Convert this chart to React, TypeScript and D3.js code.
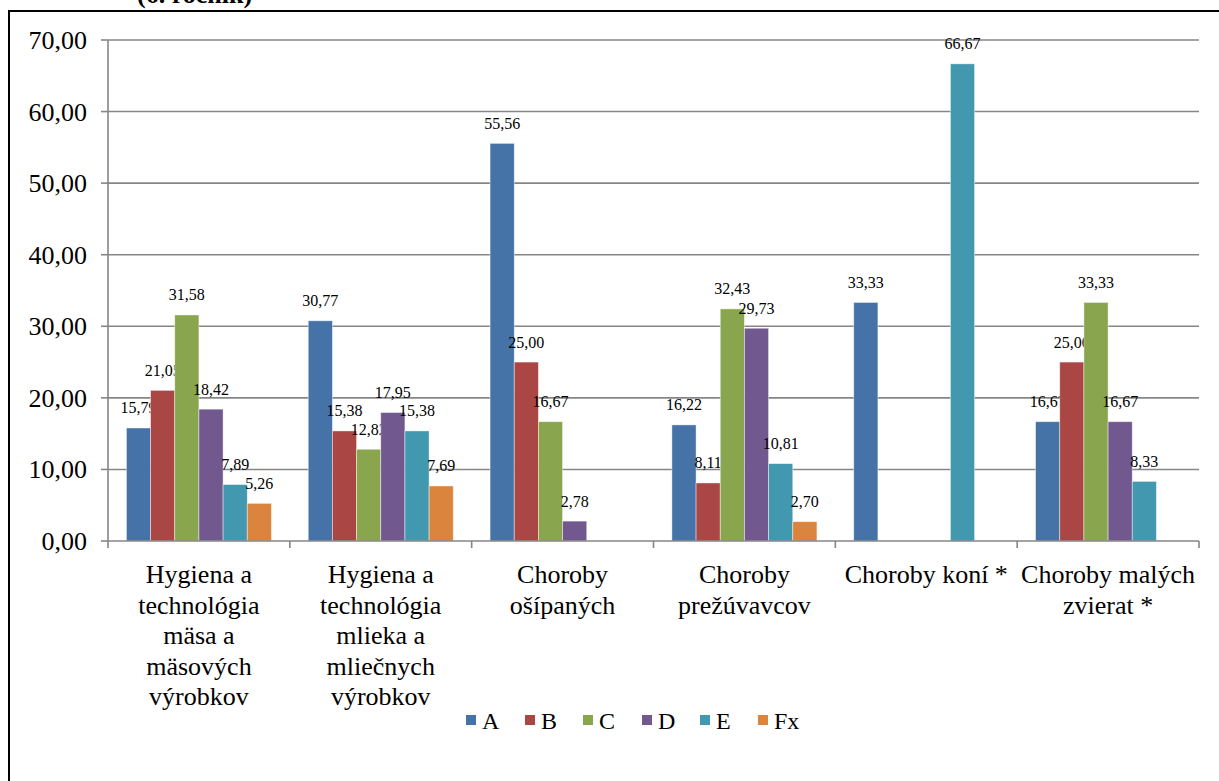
import React from "react";
import * as d3 from "d3";

const categories: string[][] = [
  ["Hygiena a", "technológia", "mäsa a", "mäsových", "výrobkov"],
  ["Hygiena a", "technológia", "mlieka a", "mliečnych", "výrobkov"],
  ["Choroby", "ošípaných"],
  ["Choroby", "prežúvavcov"],
  ["Choroby koní *"],
  ["Choroby malých", "zvierat *"],
];
const seriesNames = ["A", "B", "C", "D", "E", "Fx"];
const valuesA = [15.79, 30.77, 55.56, 16.22, 33.33, 16.67];
const valuesB = [21.05, 15.38, 25.0, 8.11, null, 25.0];
const valuesC = [31.58, 12.82, 16.67, 32.43, null, 33.33];
const valuesD = [18.42, 17.95, 2.78, 29.73, null, 16.67];
const valuesE = [7.89, 15.38, null, 10.81, 66.67, 8.33];
const valuesFx = [5.26, 7.69, null, 2.7, null, null];
const yTicks = [0, 10, 20, 30, 40, 50, 60, 70];
const colors = ["#4572A7", "#AA4643", "#89A54E", "#71588F", "#4198AF", "#DB843D"];
const titleText = "(6. ročník)";

const series = [valuesA, valuesB, valuesC, valuesD, valuesE, valuesFx];

const fmt = (v: number) => v.toFixed(2).replace(".", ",");

export default function App() {
  const W = 1219, H = 781;
  const left = 108, right = 1199, top = 40, bottom = 541;
  const font = "Liberation Serif, DejaVu Serif, serif";
  const y = d3.scaleLinear().domain([0, 70]).range([bottom, top]);
  const cat = d3.scaleBand<number>().domain(categories.map((_, i) => i)).range([left, right]);
  const groupPad = 18.4;
  const x1 = d3.scaleBand<number>().domain(seriesNames.map((_, i) => i)).range([groupPad, cat.bandwidth() - groupPad]);

  return (
    <svg width={W} height={H} style={{ position: "absolute", left: 0, top: 0, background: "#fff", fontFamily: font }}>
      <rect x={0} y={0} width={W} height={H} fill="#fff" />
      <text x={137} y={3} style={{ fontFamily: font }} fontWeight="bold" fontSize={26} fill="#000">{titleText}</text>
      <rect x={9} y={11} width={1240} height={800} fill="none" stroke="#000" strokeWidth={2} />
      {yTicks.map((t) => (
        <g key={t}>
          {t > 0 && <line x1={left} x2={right} y1={y(t)} y2={y(t)} stroke="#868686" strokeWidth={1.6} />}
          <line x1={101} x2={left} y1={y(t)} y2={y(t)} stroke="#868686" strokeWidth={1.6} />
          <text x={87} y={y(t) + 9} textAnchor="end" style={{ fontFamily: font }} fontSize={26} fill="#000">{fmt(t)}</text>
        </g>
      ))}
      {categories.map((_, ci) => (
        <g key={ci} transform={`translate(${cat(ci)},0)`}>
          {series.map((vals, si) => {
            const v = vals[ci];
            if (v === null || v === undefined) return null;
            const bx = x1(si)!;
            return (
              <g key={si}>
                <rect x={bx} y={y(v)} width={x1.bandwidth()} height={bottom - y(v)} fill={colors[si]} stroke="rgba(255,255,255,0.55)" strokeWidth={0.8} />
                <text x={bx + x1.bandwidth() / 2} y={y(v) - 14.5} textAnchor="middle" style={{ fontFamily: font }} fontSize={16} fill="#000">{fmt(v)}</text>
              </g>
            );
          })}
        </g>
      ))}
      <line x1={left} x2={left} y1={top} y2={bottom} stroke="#868686" strokeWidth={1.6} />
      <line x1={left} x2={right} y1={bottom} y2={bottom} stroke="#868686" strokeWidth={1.6} />
      {categories.map((_, ci) => (
        <line key={ci} x1={cat(ci)! + cat.bandwidth()} x2={cat(ci)! + cat.bandwidth()} y1={bottom} y2={bottom + 7} stroke="#868686" strokeWidth={1.6} />
      ))}
      <line x1={left} x2={left} y1={bottom} y2={bottom + 7} stroke="#868686" strokeWidth={1.6} />
      {categories.map((lines, ci) => (
        <text key={ci} textAnchor="middle" style={{ fontFamily: font }} fontSize={26} fill="#000">
          {lines.map((l, li) => (
            <tspan key={li} x={cat(ci)! + cat.bandwidth() / 2} y={583 + li * 30.5}>{l}</tspan>
          ))}
        </text>
      ))}
      {seriesNames.map((n, i) => {
        const lx = [466, 525, 583, 642, 700, 758][i];
        return (
          <g key={n}>
            <rect x={lx} y={715} width={10} height={10} fill={colors[i]} />
            <text x={lx + 16} y={729} style={{ fontFamily: font }} fontSize={24} fill="#000">{n}</text>
          </g>
        );
      })}
    </svg>
  );
}
